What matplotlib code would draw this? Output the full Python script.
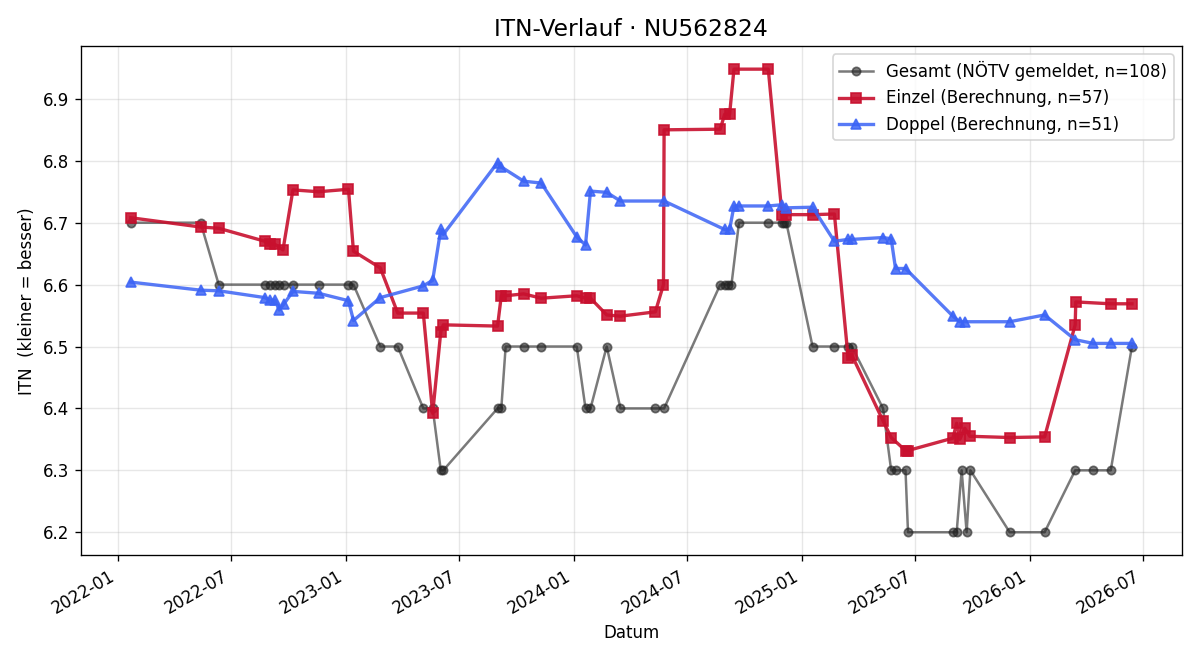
import matplotlib
matplotlib.use("Agg")
import matplotlib.pyplot as plt
import matplotlib.dates as mdates
import pandas as pd

# Gesamt (NÖTV gemeldet)
gesamt_dates = [
    "2022-01-21", "2022-05-13", "2022-06-11", "2022-08-24", "2022-09-01",
    "2022-09-09", "2022-09-16", "2022-09-23", "2022-10-08", "2022-11-18",
    "2023-01-05", "2023-01-13", "2023-02-25", "2023-03-25", "2023-05-05",
    "2023-05-20", "2023-06-02", "2023-06-06", "2023-09-01", "2023-09-07",
    "2023-09-14", "2023-10-13", "2023-11-10", "2024-01-06", "2024-01-20",
    "2024-01-28", "2024-02-23", "2024-03-16", "2024-05-11", "2024-05-25",
    "2024-08-23", "2024-08-30", "2024-09-05", "2024-09-10", "2024-09-22",
    "2024-11-08", "2024-11-30", "2024-12-03", "2024-12-07", "2025-01-18",
    "2025-02-22", "2025-03-16", "2025-03-22", "2025-05-11", "2025-05-24",
    "2025-05-31", "2025-06-16", "2025-06-20", "2025-08-31", "2025-09-06",
    "2025-09-14", "2025-09-22", "2025-09-28", "2025-11-30", "2026-01-25",
    "2026-03-15", "2026-04-13", "2026-05-11", "2026-06-14",
]
gesamt_itn = [
    6.7, 6.7, 6.6, 6.6, 6.6, 6.6, 6.6, 6.6, 6.6, 6.6,
    6.6, 6.6, 6.5, 6.5, 6.4, 6.4, 6.3, 6.3, 6.4, 6.4,
    6.5, 6.5, 6.5, 6.5, 6.4, 6.4, 6.5, 6.4, 6.4, 6.4,
    6.6, 6.6, 6.6, 6.6, 6.7, 6.7, 6.7, 6.7, 6.7, 6.5,
    6.5, 6.5, 6.5, 6.4, 6.3, 6.3, 6.3, 6.2, 6.2, 6.2,
    6.3, 6.2, 6.3, 6.2, 6.2, 6.3, 6.3, 6.3, 6.5,
]

# Einzel (Berechnung)
einzel_dates = [
    "2022-01-21", "2022-05-13", "2022-06-11", "2022-08-24", "2022-09-01",
    "2022-09-09", "2022-09-22", "2022-10-08", "2022-11-18", "2023-01-05",
    "2023-01-13", "2023-02-25", "2023-03-25", "2023-05-05", "2023-05-20",
    "2023-06-02", "2023-06-06", "2023-09-01", "2023-09-07", "2023-09-14",
    "2023-10-13", "2023-11-10", "2024-01-06", "2024-01-20", "2024-01-28",
    "2024-02-23", "2024-03-16", "2024-05-11", "2024-05-24", "2024-05-25",
    "2024-08-23", "2024-08-30", "2024-09-07", "2024-09-14", "2024-11-08",
    "2024-11-30", "2024-12-07", "2025-01-18", "2025-02-22", "2025-03-16",
    "2025-03-22", "2025-05-11", "2025-05-24", "2025-06-16", "2025-06-20",
    "2025-08-31", "2025-09-06", "2025-09-11", "2025-09-19", "2025-09-27",
    "2025-11-30", "2026-01-25", "2026-03-15", "2026-03-16", "2026-05-11",
    "2026-06-14",
]
einzel_itn = [
    6.708, 6.693, 6.691, 6.670, 6.666, 6.665, 6.656, 6.753, 6.750, 6.754,
    6.654, 6.627, 6.554, 6.554, 6.392, 6.524, 6.535, 6.533, 6.582, 6.582,
    6.585, 6.578, 6.582, 6.578, 6.578, 6.551, 6.549, 6.556, 6.600, 6.850,
    6.851, 6.875, 6.875, 6.948, 6.948, 6.713, 6.713, 6.713, 6.714, 6.482,
    6.486, 6.380, 6.353, 6.332, 6.332, 6.352, 6.376, 6.350, 6.368, 6.355,
    6.353, 6.354, 6.535, 6.572, 6.569, 6.569,
]

# Doppel (Berechnung)
doppel_dates = [
    "2022-01-21", "2022-05-13", "2022-06-11", "2022-08-24", "2022-09-01",
    "2022-09-09", "2022-09-16", "2022-09-23", "2022-10-08", "2022-11-18",
    "2023-01-05", "2023-01-13", "2023-02-25", "2023-05-05", "2023-05-20",
    "2023-06-02", "2023-06-06", "2023-09-01", "2023-09-07", "2023-10-13",
    "2023-11-10", "2024-01-06", "2024-01-20", "2024-01-28", "2024-02-23",
    "2024-03-16", "2024-05-25", "2024-08-30", "2024-09-07", "2024-09-14",
    "2024-09-22", "2024-11-08", "2024-11-30", "2024-12-07", "2025-01-18",
    "2025-02-22", "2025-03-16", "2025-03-22", "2025-05-11", "2025-05-24",
    "2025-05-31", "2025-06-16", "2025-08-31", "2025-09-11", "2025-09-19",
    "2025-11-30", "2026-01-25", "2026-03-15", "2026-04-13", "2026-05-11",
    "2026-06-14",
]
doppel_itn = [
    6.604, 6.591, 6.590, 6.579, 6.575, 6.575, 6.559, 6.568, 6.589, 6.586,
    6.574, 6.542, 6.579, 6.598, 6.607, 6.689, 6.681, 6.797, 6.790, 6.767,
    6.764, 6.677, 6.664, 6.751, 6.749, 6.735, 6.735, 6.689, 6.689, 6.727,
    6.727, 6.727, 6.729, 6.724, 6.725, 6.670, 6.673, 6.673, 6.676, 6.674,
    6.626, 6.626, 6.549, 6.540, 6.540, 6.540, 6.551, 6.511, 6.505, 6.505,
    6.505,
]

fig, ax = plt.subplots(figsize=(10, 5.5), dpi=120)

ax.plot(pd.to_datetime(gesamt_dates), gesamt_itn, "-o", color="#222222",
        alpha=0.6, lw=1.5, ms=5, label="Gesamt (NÖTV gemeldet, n=108)")
ax.plot(pd.to_datetime(einzel_dates), einzel_itn, "-s", color="#c8102e",
        alpha=0.9, lw=2, ms=6, label="Einzel (Berechnung, n=57)")
ax.plot(pd.to_datetime(doppel_dates), doppel_itn, "-^", color="#3b63f5",
        alpha=0.85, lw=2, ms=6, label="Doppel (Berechnung, n=51)")

ax.xaxis.set_major_locator(mdates.MonthLocator(bymonth=[1, 7]))
ax.xaxis.set_major_formatter(mdates.DateFormatter("%Y-%m"))
fig.autofmt_xdate()

ax.set_title("ITN-Verlauf · NU562824", fontsize=14)
ax.set_xlabel("Datum")
ax.set_ylabel("ITN  (kleiner = besser)")
ax.grid(True, alpha=0.3)
ax.legend(loc="upper right")

fig.tight_layout()
fig.savefig("out.png")
